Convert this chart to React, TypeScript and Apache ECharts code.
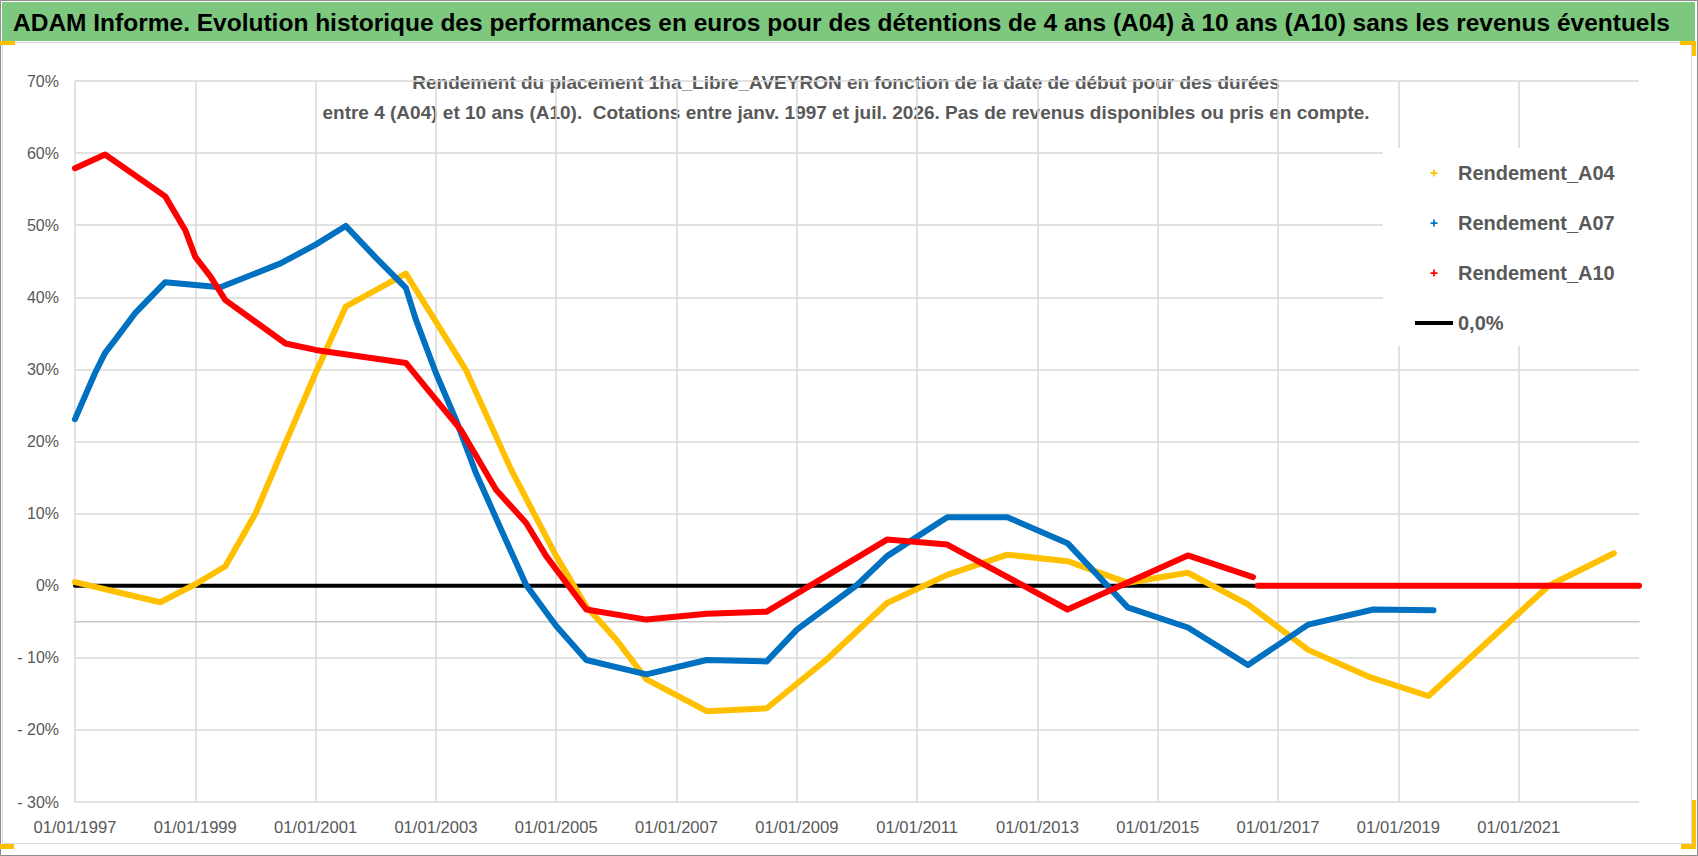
import React, { useEffect, useRef } from 'react';
import * as echarts from 'echarts';

const FONT = '"Liberation Sans", Arial, sans-serif';

const TITLE =
  'ADAM Informe. Evolution historique des performances en euros pour des détentions de 4 ans (A04) à 10 ans (A10) sans les revenus éventuels';
const SUBTITLE_1 =
  'Rendement du placement 1ha_Libre_AVEYRON en fonction de la date de début pour des durées';
const SUBTITLE_2 =
  'entre 4 (A04) et 10 ans (A10).  Cotations entre janv. 1997 et juil. 2026. Pas de revenus disponibles ou pris en compte.';

const SERIES_NAMES = ['Rendement_A04', 'Rendement_A07', 'Rendement_A10', '0,0%'];

const X_MIN_YEAR = 1997;
const X_MAX_YEAR = 2023;
const X_STEP_YEARS = 2;
const Y_MIN = -30;
const Y_MAX = 70;
const Y_STEP = 10;

// Rendement_A04 (4-year holding), % by start date
const datesA04 = [
  '1997-01', '1998-06', '1999-01', '1999-07', '2000-01', '2000-07', '2001-01', '2001-07',
  '2002-07', '2003-07', '2004-04', '2005-01', '2005-07', '2006-01', '2006-07', '2007-07',
  '2008-07', '2009-07', '2010-07', '2011-07', '2012-07', '2013-07', '2014-07', '2015-07',
  '2016-07', '2017-07', '2018-07', '2019-07', '2021-07', '2022-08',
];
const valuesA04 = [
  0.5, -2.3, 0.2, 2.7, 10.0, 19.8, 29.5, 38.7,
  43.3, 29.9, 16.1, 4.1, -2.9, -7.5, -13.0, -17.4,
  -17.0, -10.2, -2.4, 1.5, 4.3, 3.4, 0.4, 1.8,
  -2.6, -8.9, -12.6, -15.3, 0.0, 4.5,
];

// Rendement_A07 (7-year holding)
const datesA07 = [
  '1997-01', '1997-05', '1997-07', '1997-09', '1998-01', '1998-07', '1999-01', '1999-06',
  '2000-06', '2001-01', '2001-07', '2002-01', '2002-07', '2002-09', '2003-01', '2003-05',
  '2003-09', '2004-02', '2004-07', '2005-01', '2005-07', '2006-07', '2007-07', '2008-07',
  '2009-01', '2010-01', '2010-07', '2011-07', '2012-07', '2013-07', '2014-07', '2015-07',
  '2016-07', '2017-07', '2018-08', '2019-08',
];
const valuesA07 = [
  23.1, 29.5, 32.3, 34.1, 37.8, 42.1, 41.7, 41.4,
  44.7, 47.3, 49.9, 45.5, 41.3, 36.9, 29.5, 23.0,
  15.6, 7.8, 0.1, -5.6, -10.3, -12.3, -10.3, -10.5,
  -6.1, 0.1, 4.1, 9.5, 9.5, 5.9, -3.0, -5.8,
  -11.0, -5.4, -3.3, -3.4,
];

// Rendement_A10 (10-year holding); null = break, then zeros (no data)
const datesA10 = [
  '1997-01', '1997-07', '1998-07', '1998-11', '1999-01', '1999-04', '1999-07', '2000-07',
  '2001-01', '2002-07', '2003-01', '2003-06', '2004-01', '2004-07', '2004-11', '2005-07',
  '2006-07', '2007-07', '2008-07', '2010-07', '2011-07', '2013-07', '2015-07', '2016-08',
  '2016-08', '2016-09', '2023-01',
];
const valuesA10 = [
  57.9, 59.8, 54.0, 49.3, 45.6, 42.9, 39.6, 33.6,
  32.7, 30.9, 25.8, 21.6, 13.3, 8.7, 4.1, -3.3,
  -4.7, -3.9, -3.6, 6.4, 5.7, -3.3, 4.2, 1.2,
  null, 0, 0,
];

// Reference lines
const datesZero = ['1997-01', '2023-01'];
const valuesZero = [0, 0];
const datesMinus5 = ['1997-01', '2023-01'];
const valuesMinus5 = [-5, -5];

const COLORS = {
  a04: '#FFC000',
  a07: '#0070C0',
  a10: '#FF0000',
  zero: '#000000',
  minus5: '#c8c8c8',
  grid: '#d9d9d9',
  text: '#595959',
  green: '#7dc87e',
  handle: '#FFC000',
};

function toYear(s: string): number {
  const [y, m] = s.split('-').map(Number);
  return y + (m - 1) / 12;
}

function pairs(dates: string[], values: (number | null)[]) {
  return dates.map((d, i) => [toYear(d), values[i] === null ? '-' : values[i]]);
}

const PLUS_ICON = 'path://M3,0h2v3h3v2h-3v3h-2v-3h-3v-2h3z';
const LINE_ICON = 'path://M0,0h38v4h-38z';

export default function App() {
  const ref = useRef<HTMLDivElement>(null);

  useEffect(() => {
    if (!ref.current) return;
    const chart = echarts.init(ref.current, null, { renderer: 'svg' });

    const lineSeries = (name: string, data: any[], color: string, width: number, z: number) => ({
      name,
      type: 'line',
      data,
      showSymbol: false,
      symbol: 'none',
      connectNulls: false,
      z,
      color,
      itemStyle: { color },
      lineStyle: { color, width, cap: 'round', join: 'round' },
      emphasis: { disabled: true },
      silent: true,
    });

    const option: any = {
      animation: false,
      backgroundColor: '#ffffff',
      textStyle: { fontFamily: FONT },
      grid: {
        left: 75,
        top: 81,
        width: 1564,
        height: 721,
        containLabel: false,
        outerBoundsMode: 'none',
      },
      xAxis: {
        type: 'value',
        min: X_MIN_YEAR,
        max: X_MAX_YEAR,
        interval: X_STEP_YEARS,
        axisLine: { show: false },
        axisTick: { show: false },
        axisLabel: {
          margin: 17,
          fontSize: 16.6,
          color: COLORS.text,
          fontFamily: FONT,
          showMaxLabel: false,
          formatter: (v: number) => `01/01/${Math.round(v)}`,
        },
        splitLine: {
          show: true,
          showMinLine: true,
          showMaxLine: false,
          lineStyle: { color: COLORS.grid, width: 1.5 },
        },
      },
      yAxis: {
        type: 'value',
        min: Y_MIN,
        max: Y_MAX,
        interval: Y_STEP,
        axisLine: { show: false },
        axisTick: { show: false },
        axisLabel: {
          margin: 16,
          fontSize: 16,
          color: COLORS.text,
          fontFamily: FONT,
          formatter: (v: number) => (v < 0 ? `- ${-v}%` : `${v}%`),
        },
        splitLine: { show: true, lineStyle: { color: COLORS.grid, width: 1.5 } },
      },
      legend: {
        orient: 'vertical',
        left: 1383,
        top: 148,
        padding: [13, 31, 11, 32],
        itemGap: 26,
        itemWidth: 38,
        itemHeight: 7,
        backgroundColor: '#ffffff',
        selectedMode: false,
        itemStyle: { borderWidth: 0 },
        textStyle: {
          fontFamily: FONT,
          fontSize: 20,
          fontWeight: 'bold',
          color: COLORS.text,
          lineHeight: 24,
        },
        data: [
          { name: SERIES_NAMES[0], icon: PLUS_ICON },
          { name: SERIES_NAMES[1], icon: PLUS_ICON },
          { name: SERIES_NAMES[2], icon: PLUS_ICON },
          { name: SERIES_NAMES[3], icon: LINE_ICON },
        ],
      },
      series: [
        lineSeries('seuil_-5', pairs(datesMinus5, valuesMinus5), COLORS.minus5, 1.5, 1),
        lineSeries(SERIES_NAMES[3], pairs(datesZero, valuesZero), COLORS.zero, 4, 2),
        lineSeries(SERIES_NAMES[0], pairs(datesA04, valuesA04), COLORS.a04, 6, 3),
        lineSeries(SERIES_NAMES[1], pairs(datesA07, valuesA07), COLORS.a07, 6, 3),
        lineSeries(SERIES_NAMES[2], pairs(datesA10, valuesA10), COLORS.a10, 6, 3),
      ],
      graphic: [
        {
          type: 'rect',
          silent: true,
          shape: { x: 0.5, y: 0.5, width: 1697, height: 855 },
          style: { fill: 'none', stroke: '#8c8c8c', lineWidth: 1 },
        },
        {
          type: 'rect',
          silent: true,
          shape: { x: 2, y: 2, width: 1693, height: 39 },
          style: { fill: COLORS.green },
        },
        {
          type: 'rect',
          silent: true,
          shape: { x: 2.5, y: 42.5, width: 1689, height: 801 },
          style: { fill: 'none', stroke: COLORS.grid, lineWidth: 1 },
        },
        {
          type: 'text',
          silent: true,
          x: 13,
          y: 22,
          style: {
            text: TITLE,
            fill: '#000000',
            font: `bold 24.5px ${FONT}`,
            textVerticalAlign: 'middle',
            textAlign: 'left',
          },
        },
        {
          type: 'text',
          silent: true,
          x: 846,
          y: 82,
          style: {
            text: SUBTITLE_1,
            fill: COLORS.text,
            font: `bold 19px ${FONT}`,
            textVerticalAlign: 'middle',
            textAlign: 'center',
          },
        },
        {
          type: 'text',
          silent: true,
          x: 846,
          y: 112,
          style: {
            text: SUBTITLE_2,
            fill: COLORS.text,
            font: `bold 19px ${FONT}`,
            textVerticalAlign: 'middle',
            textAlign: 'center',
          },
        },
        // selection handles (yellow corner marks)
        { type: 'rect', silent: true, shape: { x: 0, y: 41, width: 15, height: 4 }, style: { fill: COLORS.handle } },
        { type: 'rect', silent: true, shape: { x: 1680, y: 41, width: 15, height: 4 }, style: { fill: COLORS.handle } },
        { type: 'rect', silent: true, shape: { x: 1692, y: 41, width: 4, height: 15 }, style: { fill: COLORS.handle } },
        { type: 'rect', silent: true, shape: { x: 0, y: 844, width: 14, height: 5 }, style: { fill: COLORS.handle } },
        { type: 'rect', silent: true, shape: { x: 1681, y: 844, width: 15, height: 5 }, style: { fill: COLORS.handle } },
        { type: 'rect', silent: true, shape: { x: 1692, y: 800, width: 4, height: 49 }, style: { fill: COLORS.handle } },
      ],
    };

    chart.setOption(option);
    return () => {
      chart.dispose();
    };
  }, []);

  return (
    <div
      ref={ref}
      style={{ position: 'fixed', left: 0, top: 0, width: 1698, height: 856, background: '#fff' }}
    />
  );
}
